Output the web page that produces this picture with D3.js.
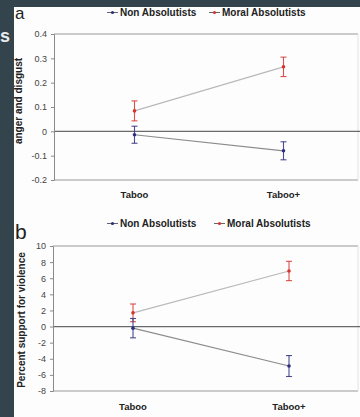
<!DOCTYPE html>
<html><head><meta charset="utf-8">
<script src="https://cdn.jsdelivr.net/npm/d3@7"></script>
<style>body{margin:0;background:#fff}svg{display:block}</style>
</head><body>
<script>
const categories = ["Taboo", "Taboo+"];
const seriesNames = ["Non Absolutists", "Moral Absolutists"];
// panel a: anger and disgust
const aNon = [-0.014, -0.08];
const aNonErr = [0.035, 0.037];
const aMoral = [0.084, 0.265];
const aMoralErr = [0.041, 0.04];
const aTicks = [0.4, 0.3, 0.2, 0.1, 0, -0.1, -0.2];
// panel b: percent support for violence
const bNon = [-0.2, -4.9];
const bNonErr = [1.2, 1.3];
const bMoral = [1.7, 6.9];
const bMoralErr = [1.1, 1.2];
const bTicks = [10, 8, 6, 4, 2, 0, -2, -4, -6, -8];

const W = 360, H = 417;
const svg = d3.select("body").append("svg").attr("width", W).attr("height", H);
const FONT = "Liberation Sans, Arial, sans-serif";

// slide background
svg.append("rect").attr("width", W).attr("height", H).attr("fill", "#34444d");
svg.append("rect").attr("x", 14).attr("y", 7).attr("width", W - 14).attr("height", H - 7).attr("fill", "#fdfdfd");
svg.append("text").attr("x", 0).attr("y", 42).attr("fill", "#e8ecee").attr("font-family", FONT)
  .attr("font-size", 18).attr("font-weight", "bold").text("s");

const colors = { non: "#2b2f80", moral: "#d8332e" };

function panel(cfg) {
  const g = svg.append("g");
  const y = d3.scaleLinear().domain(cfg.domain).range([cfg.bottom, cfg.top]);
  const x = d3.scalePoint().domain(categories).range(cfg.xRange).padding(0.5);

  // frame
  g.append("line").attr("x1", cfg.left).attr("x2", cfg.right).attr("y1", cfg.top).attr("y2", cfg.top)
    .attr("stroke", "#9a9a9a").attr("stroke-width", 1.2);
  g.append("line").attr("x1", cfg.left).attr("x2", cfg.right).attr("y1", cfg.bottom).attr("y2", cfg.bottom)
    .attr("stroke", "#9a9a9a").attr("stroke-width", 1.2);
  g.append("line").attr("x1", cfg.right).attr("x2", cfg.right).attr("y1", cfg.top).attr("y2", cfg.bottom)
    .attr("stroke", "#e2e2e2");
  // zero line
  g.append("line").attr("x1", cfg.left).attr("x2", W).attr("y1", y(0)).attr("y2", y(0))
    .attr("stroke", "#6a6a6a").attr("stroke-width", 1.3);

  // y axis
  const ax = g.append("g").attr("transform", `translate(${cfg.left},0)`)
    .call(d3.axisLeft(y).tickValues(cfg.ticks).tickSize(3).tickPadding(4).tickFormat(d => String(d)));
  ax.select(".domain").attr("stroke", "#8a8a8a");
  ax.selectAll(".tick line").attr("stroke", "#8a8a8a");
  ax.selectAll("text").attr("font-family", FONT).attr("font-size", 9).attr("fill", "#444");

  // y label
  g.append("text").attr("transform", `translate(${cfg.ylabX},${cfg.ylabY}) rotate(-90)`)
    .attr("text-anchor", "middle").attr("font-family", FONT).attr("font-size", 10)
    .attr("font-weight", "bold").attr("fill", "#222").text(cfg.ylabel);

  // category labels
  g.selectAll(".cat").data(categories).join("text")
    .attr("x", d => x(d)).attr("y", cfg.catY).attr("text-anchor", "middle")
    .attr("font-family", FONT).attr("font-size", 9.5).attr("font-weight", "bold").attr("fill", "#222")
    .text(d => d);

  // panel letter
  g.append("text").attr("x", 15).attr("y", cfg.letterY).attr("font-family", FONT)
    .attr("font-size", cfg.letterSize).attr("fill", "#222").text(cfg.letter);

  const series = [
    { key: "moral", vals: cfg.moral, err: cfg.moralErr, line: "#b9b9b9" },
    { key: "non", vals: cfg.non, err: cfg.nonErr, line: "#8c8c8c" }
  ];
  const line = d3.line().x((d, i) => x(categories[i])).y(d => y(d));
  series.forEach(s => {
    g.append("path").datum(s.vals).attr("d", line).attr("fill", "none")
      .attr("stroke", s.line).attr("stroke-width", 1.2);
  });
  series.forEach(s => {
    const c = colors[s.key];
    const eg = g.append("g");
    s.vals.forEach((v, i) => {
      const cx = x(categories[i]);
      eg.append("line").attr("x1", cx).attr("x2", cx).attr("y1", y(v + s.err[i])).attr("y2", y(v - s.err[i]))
        .attr("stroke", c).attr("stroke-width", 1.1).attr("opacity", 0.85);
      [v + s.err[i], v - s.err[i]].forEach(e => {
        eg.append("line").attr("x1", cx - 3).attr("x2", cx + 3).attr("y1", y(e)).attr("y2", y(e))
          .attr("stroke", c).attr("stroke-width", 1.1).attr("opacity", 0.85);
      });
      eg.append("circle").attr("cx", cx).attr("cy", y(v)).attr("r", 1.8).attr("fill", c);
    });
  });

  // legend
  const lg = g.append("g");
  const items = [
    { name: seriesNames[0], c: colors.non, x: cfg.legX[0] },
    { name: seriesNames[1], c: colors.moral, x: cfg.legX[1] }
  ];
  items.forEach(it => {
    lg.append("line").attr("x1", it.x).attr("x2", it.x + 11).attr("y1", cfg.legY - 3.5).attr("y2", cfg.legY - 3.5)
      .attr("stroke", "#666").attr("stroke-width", 1);
    lg.append("circle").attr("cx", it.x + 5.5).attr("cy", cfg.legY - 3.5).attr("r", 1.6).attr("fill", it.c);
    lg.append("text").attr("x", it.x + 13).attr("y", cfg.legY).attr("font-family", FONT)
      .attr("font-size", 10).attr("font-weight", "bold").attr("fill", "#222").text(it.name);
  });
}

panel({
  domain: [-0.2, 0.4], top: 34, bottom: 180, left: 54, right: 358,
  xRange: [60, 358], ticks: aTicks, ylabel: "anger and disgust", ylabX: 22, ylabY: 101,
  catY: 198, letter: "a", letterY: 19, letterSize: 17, legY: 16, legX: [107, 209],
  non: aNon, nonErr: aNonErr, moral: aMoral, moralErr: aMoralErr
});
panel({
  domain: [-8, 10], top: 246, bottom: 391, left: 53, right: 358,
  xRange: [55, 367], ticks: bTicks, ylabel: "Percent support for violence", ylabX: 25, ylabY: 320,
  catY: 410, letter: "b", letterY: 239, letterSize: 21, legY: 227, legX: [107, 214],
  non: bNon, nonErr: bNonErr, moral: bMoral, moralErr: bMoralErr
});
</script>
</body></html>
